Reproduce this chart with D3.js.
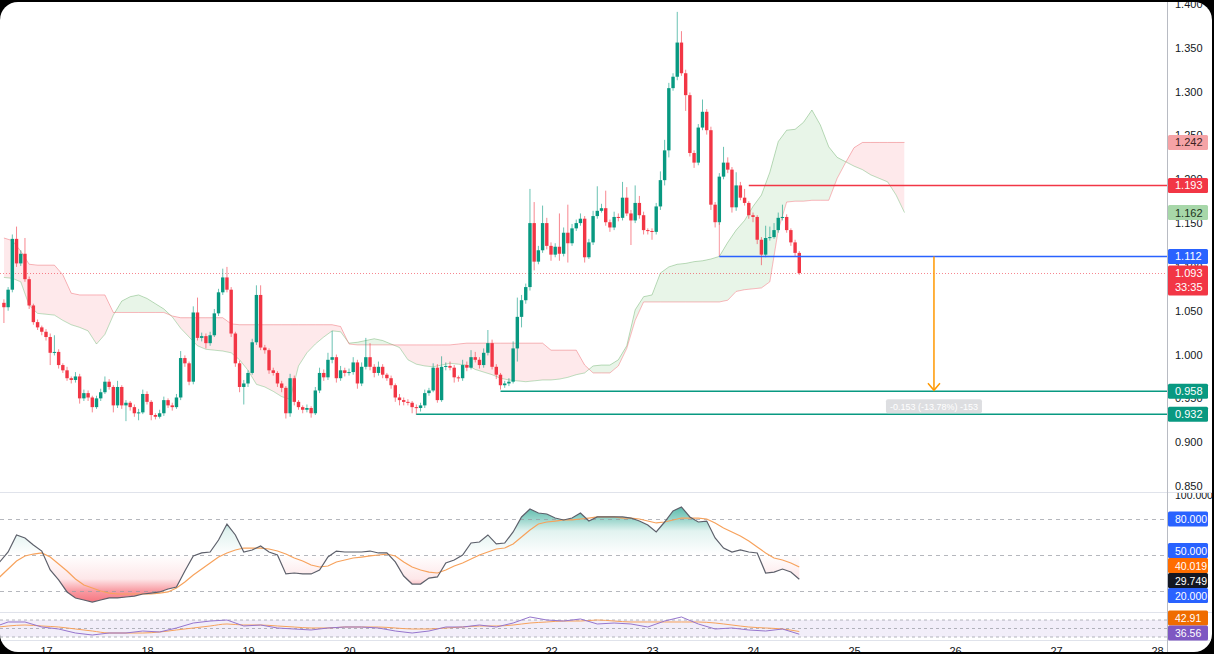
<!DOCTYPE html>
<html>
<head>
<meta charset="utf-8">
<script src="https://cdn.jsdelivr.net/npm/d3@7"></script>
<style>
  html, body { margin: 0; padding: 0; background: #000; }
  svg { display: block; }
</style>
</head>
<body>
<svg id="chart" width="1214" height="654"></svg>
<script>
// ---- data (hour 0 = day 17, 00:00) ----
const dayLabels = ["17", "18", "19", "20", "21", "22", "23", "24", "25", "26", "27", "28"];
const priceTicks = [1.4, 1.35, 1.3, 1.25, 1.2, 1.15, 1.1, 1.05, 1.0, 0.95, 0.9, 0.85];

const firstHour = -10;
const firstOpen = 1.059;
const closes = [
  1.054, 1.074, 1.132, 1.104, 1.115, 1.086, 1.056, 1.037, 1.031, 1.026,
  1.020, 1.002, 1.003, 0.988, 0.982, 0.973, 0.971, 0.975, 0.950, 0.956,
  0.951, 0.940, 0.950, 0.957, 0.969, 0.963, 0.942, 0.963, 0.942, 0.945,
  0.940, 0.933, 0.934, 0.955, 0.946, 0.931, 0.929, 0.933, 0.948, 0.942,
  0.940, 0.951, 0.996, 0.990, 0.969, 1.048, 1.019, 1.021, 1.013, 1.022,
  1.047, 1.071, 1.088, 1.074, 1.024, 0.990, 0.963, 0.967, 0.979, 1.014,
  1.068, 1.008, 1.005, 0.982, 0.979, 0.967, 0.962, 0.933, 0.973, 0.946,
  0.940, 0.937, 0.939, 0.933, 0.959, 0.979, 0.974, 0.994, 0.997, 0.973,
  0.982, 0.979, 0.980, 0.991, 0.967, 0.986, 0.997, 0.986, 0.979, 0.986,
  0.977, 0.973, 0.965, 0.951, 0.948, 0.946, 0.945, 0.940, 0.939, 0.942,
  0.956, 0.959, 0.985, 0.948, 0.986, 0.987, 0.985, 0.974, 0.973, 0.988,
  0.985, 0.997, 0.994, 0.988, 1.002, 1.013, 0.986, 0.977, 0.965, 0.967,
  0.969, 1.007, 1.043, 1.062, 1.077, 1.150, 1.106, 1.119, 1.150, 1.124,
  1.114, 1.123, 1.115, 1.139, 1.127, 1.144, 1.150, 1.155, 1.111, 1.128,
  1.158, 1.164, 1.167, 1.151, 1.145, 1.157, 1.156, 1.179, 1.161, 1.153,
  1.173, 1.159, 1.142, 1.141, 1.140, 1.169, 1.199, 1.233, 1.304, 1.317,
  1.356, 1.321, 1.296, 1.230, 1.219, 1.259, 1.277, 1.256, 1.171, 1.151,
  1.203, 1.219, 1.211, 1.168, 1.193, 1.179, 1.173, 1.159, 1.157, 1.131,
  1.114, 1.133, 1.134, 1.142, 1.156, 1.157, 1.142, 1.128, 1.116, 1.093
];
const upWick = [
  .004,.003,.005,.014,.004,.018,.003,.002,.003,.002,
  .003,.004,.019,.003,.002,.004,.002,.005,.003,.004,
  .003,.002,.003,.004,.006,.003,.002,.007,.002,.003,
  .002,.003,.004,.005,.003,.002,.002,.004,.004,.002,
  .003,.004,.008,.003,.002,.007,.017,.004,.003,.004,
  .005,.004,.010,.012,.003,.002,.003,.004,.003,.004,
  .011,.011,.003,.002,.003,.002,.003,.002,.005,.003,
  .002,.002,.004,.002,.004,.006,.004,.008,.030,.003,
  .005,.003,.004,.006,.003,.005,.022,.016,.003,.006,
  .003,.002,.003,.002,.004,.003,.003,.002,.003,.003,
  .004,.003,.005,.004,.012,.004,.005,.003,.002,.006,
  .004,.008,.006,.003,.005,.015,.004,.003,.002,.003,
  .004,.008,.022,.006,.004,.039,.024,.005,.020,.006,
  .004,.004,.038,.006,.032,.005,.004,.006,.003,.004,
  .006,.028,.005,.020,.003,.006,.004,.018,.012,.004,
  .020,.008,.004,.002,.003,.004,.010,.012,.006,.004,
  .035,.013,.004,.003,.003,.004,.014,.003,.004,.003,
  .004,.018,.006,.003,.015,.004,.010,.002,.003,.002,
  .003,.014,.012,.008,.006,.014,.003,.002,.003,.002
];
const downWick = [
  .018,.004,.003,.004,.003,.003,.004,.003,.003,.004,
  .004,.014,.003,.004,.003,.003,.004,.003,.006,.003,
  .004,.006,.002,.003,.002,.003,.008,.003,.004,.018,
  .004,.004,.008,.002,.003,.006,.003,.002,.003,.003,
  .004,.002,.003,.004,.004,.003,.003,.004,.006,.003,
  .002,.003,.003,.003,.004,.004,.006,.020,.004,.002,
  .003,.003,.004,.004,.003,.004,.005,.006,.004,.004,
  .003,.004,.003,.005,.002,.003,.004,.003,.004,.005,
  .003,.004,.003,.003,.006,.003,.003,.004,.005,.003,
  .004,.003,.004,.005,.006,.004,.003,.007,.008,.004,
  .003,.003,.002,.003,.002,.004,.003,.006,.004,.003,
  .004,.002,.003,.004,.003,.003,.003,.005,.005,.003,
  .003,.002,.015,.012,.004,.004,.010,.003,.003,.004,
  .007,.003,.008,.003,.022,.003,.003,.003,.006,.002,
  .003,.003,.002,.004,.005,.003,.004,.003,.003,.028,
  .003,.004,.005,.004,.009,.003,.004,.006,.008,.003,
  .004,.003,.018,.004,.006,.003,.003,.005,.006,.006,
  .003,.003,.004,.006,.004,.003,.003,.004,.006,.005,
  .012,.003,.003,.002,.003,.003,.003,.004,.004,.002
];

// ichimoku cloud, one value every 2 hours from hour -10
const cloudStart = -10;
const spanA = [
  1.088, 1.087, 1.083, 1.056, 1.047, 1.046, 1.045, 1.039, 1.034, 1.031,
  1.027, 1.012, 1.023, 1.045, 1.061, 1.066, 1.068, 1.064, 1.058, 1.052,
  1.043, 1.030, 1.020, 1.010, 1.006, 1.005, 1.004, 1.002, 0.994, 0.982,
  0.966, 0.963, 0.958, 0.952, 0.949, 0.987, 1.002, 1.012, 1.020, 1.027,
  1.026, 1.013, 1.014, 1.016, 1.018, 1.016, 1.012, 1.008, 0.994, 0.989,
  0.987, 0.986, 0.988, 0.990, 0.989, 0.988, 0.983, 0.980, 0.977, 0.973,
  0.971, 0.970, 0.969, 0.970, 0.971, 0.971, 0.972, 0.974, 0.977, 0.979,
  0.987, 0.988, 0.988, 0.994, 1.010, 1.051, 1.066, 1.068, 1.093, 1.100,
  1.103, 1.104, 1.106, 1.107, 1.109, 1.112, 1.128, 1.142, 1.153, 1.169,
  1.182, 1.208, 1.243, 1.256, 1.257, 1.265, 1.279, 1.262, 1.237, 1.225,
  1.220, 1.215, 1.211, 1.205, 1.201, 1.197, 1.182, 1.162
];
const spanB = [
  1.133, 1.130, 1.118, 1.103, 1.102, 1.102, 1.102, 1.091, 1.070, 1.068,
  1.068, 1.068, 1.068, 1.048, 1.048, 1.048, 1.048, 1.048, 1.048, 1.048,
  1.044, 1.042, 1.042, 1.042, 1.042, 1.042, 1.042, 1.035, 1.034, 1.034,
  1.034, 1.034, 1.034, 1.034, 1.034, 1.034, 1.034, 1.034, 1.034, 1.034,
  1.032, 1.012, 1.011, 1.011, 1.011, 1.011, 1.011, 1.011, 1.011, 1.011,
  1.011, 1.011, 1.011, 1.011, 1.012, 1.013, 1.013, 1.013, 1.013, 1.013,
  1.013, 1.013, 1.013, 1.013, 1.013, 1.005, 1.005, 1.005, 1.005, 0.988,
  0.979, 0.979, 0.979, 0.987, 1.007, 1.039, 1.060, 1.060, 1.060, 1.060,
  1.060, 1.060, 1.060, 1.060, 1.060, 1.060, 1.062, 1.072, 1.074, 1.075,
  1.076, 1.083, 1.142, 1.174, 1.175, 1.175, 1.176, 1.176, 1.176, 1.201,
  1.219, 1.236, 1.242, 1.242, 1.242, 1.242, 1.242, 1.242
];

// drawings on the price pane (levels + the hour they start at)
const resistance = 1.193, resistanceHour = 167;
const pivot = 1.112, pivotHour = 160, pivotAnchorTop = 1.151;
const supports = [0.958, 0.932];
const supportHours = [108, 88];
const measureHour = 211;
const measureText = "-0.153 (-13.78%) -153";
const countdown = "33:35";

// RSI, one value every 2 hours from hour -11
const rsiStart = -11;
const rsi = [
  44.2, 52.5, 66.7, 64.2, 58.3, 53.3, 37.5, 29.2, 19.2, 14.2,
  12.5, 10.8, 12.5, 14.2, 14.2, 15.0, 15.8, 17.5, 18.3, 19.2,
  21.7, 23.3, 36.7, 49.2, 51.7, 52.5, 62.5, 75.8, 66.7, 52.5,
  54.2, 57.5, 52.5, 50.0, 34.2, 35.0, 34.2, 34.2, 37.5, 48.3,
  53.3, 52.5, 52.5, 52.5, 53.3, 51.7, 51.7, 44.2, 32.5, 25.8,
  25.8, 30.8, 31.7, 43.3, 45.8, 50.0, 60.0, 60.8, 66.7, 59.2,
  60.0, 69.2, 81.7, 88.3, 85.0, 84.2, 80.8, 79.2, 80.8, 85.0,
  78.3, 81.7, 81.7, 81.7, 81.7, 80.8, 78.3, 75.0, 69.2, 77.5,
  86.7, 90.0, 81.7, 77.5, 78.3, 64.2, 55.8, 52.5, 54.2, 52.5,
  51.7, 35.0, 35.8, 38.3, 35.8, 29.749
];
const rsiMa = [
  31.7, 38.3, 45.0, 49.2, 50.8, 51.7, 48.3, 42.5, 36.7, 30.0,
  25.0, 22.5, 20.0, 18.3, 17.5, 17.5, 17.5, 17.5, 17.5, 18.3,
  19.2, 22.5, 27.5, 33.3, 38.3, 43.3, 48.3, 51.7, 54.2, 55.8,
  55.8, 55.8, 55.0, 53.3, 50.8, 47.5, 45.0, 41.7, 40.0, 40.8,
  44.2, 45.8, 47.5, 48.3, 49.2, 50.0, 50.8, 49.2, 44.2, 40.0,
  37.5, 35.8, 35.0, 37.5, 40.8, 43.3, 46.7, 50.0, 52.5, 55.0,
  55.8, 59.2, 65.0, 70.8, 75.8, 77.5, 78.3, 79.2, 79.2, 80.0,
  80.8, 81.7, 81.7, 81.7, 80.8, 80.8, 80.0, 78.3, 76.7, 77.5,
  79.2, 80.8, 80.8, 80.8, 80.0, 76.7, 72.5, 69.2, 65.8, 61.7,
  56.7, 51.7, 47.5, 45.8, 43.3, 40.019
];
const rsiLevels = [80, 50, 20];

// second oscillator, one value every 4 hours from hour -13
const slowStart = -13;
const slow = [
  51.2, 65.3, 65.3, 53.5, 48.8, 39.4, 34.7, 39.4, 39.4, 44.1,
  41.8, 51.2, 62.9, 67.6, 70.0, 55.9, 58.2, 51.2, 48.8, 46.5,
  51.2, 53.5, 53.5, 51.2, 44.1, 39.4, 44.1, 53.5, 53.5, 58.2,
  53.5, 62.9, 77.1, 70.0, 67.6, 72.4, 60.6, 62.9, 60.6, 53.5,
  67.6, 77.1, 60.6, 48.8, 51.2, 46.5, 44.1, 48.8, 36.56
];
const slowMa = [
  51.2, 55.9, 58.2, 55.9, 53.5, 48.8, 44.1, 39.4, 39.4, 39.4,
  41.8, 46.5, 51.2, 55.9, 60.6, 58.2, 58.2, 55.9, 53.5, 51.2,
  51.2, 53.5, 53.5, 53.5, 51.2, 48.8, 48.8, 51.2, 53.5, 55.9,
  55.9, 58.2, 62.9, 65.3, 67.6, 67.6, 70.0, 67.6, 65.3, 65.3,
  65.3, 65.3, 65.3, 62.9, 58.2, 53.5, 51.2, 48.8, 42.91
];
const slowBand = [70, 50, 30];

// ---- layout ----
const axisX = 1167;
const font = "'Liberation Sans', Arial, sans-serif";
const up = "#089981", down = "#f23645", blue = "#2962ff";

const x = d3.scaleLinear().domain([0, 264]).range([46, 1157]);
const y = d3.scaleLinear().domain([0.85, 1.4]).range([486, 4]);
const yRsi = d3.scaleLinear().domain([0, 100]).range([615, 495]);
const yLow = d3.scaleLinear().domain([30, 70]).range([637, 620]);

const svg = d3.select("#chart");
const defs = svg.append("defs");

function clipRect(id, x0, y0, w, h, r) {
  defs.append("clipPath").attr("id", id).append("rect")
    .attr("x", x0).attr("y", y0).attr("width", w).attr("height", h).attr("rx", r || 0);
}
clipRect("frame", 0, 2, 1212, 650, 18);
clipRect("clipMain", 0, 0, axisX, 492);
clipRect("clipRsi", 0, 493, axisX, 119);
clipRect("clipLow", 0, 613, axisX, 27);
clipRect("clipRsiAxis", axisX, 493, 50, 119);

const root = svg.append("g").attr("clip-path", "url(#frame)");
root.append("rect").attr("width", 1214).attr("height", 654).attr("fill", "#fff");

// ---- price pane ----
const main = root.append("g").attr("clip-path", "url(#clipMain)");

const cloud = spanA.map((a, i) => ({h: cloudStart + 2 * i, a: a, b: spanB[i]}));
defs.append("clipPath").attr("id", "aboveB").append("path")
  .attr("d", d3.area().x(d => x(d.h)).y0(0).y1(d => y(d.b))(cloud));
defs.append("clipPath").attr("id", "aboveA").append("path")
  .attr("d", d3.area().x(d => x(d.h)).y0(0).y1(d => y(d.a))(cloud));
const between = d3.area().x(d => x(d.h)).y0(d => y(d.a)).y1(d => y(d.b));

main.append("g").attr("clip-path", "url(#aboveB)")
  .append("path").attr("d", between(cloud)).attr("fill", "rgba(76,175,80,0.13)");
main.append("g").attr("clip-path", "url(#aboveA)")
  .append("path").attr("d", between(cloud)).attr("fill", "rgba(242,54,69,0.11)");
main.append("path").attr("d", d3.line().x(d => x(d.h)).y(d => y(d.a))(cloud))
  .attr("fill", "none").attr("stroke", "rgba(67,160,71,0.35)").attr("stroke-width", 1);
main.append("path").attr("d", d3.line().x(d => x(d.h)).y(d => y(d.b))(cloud))
  .attr("fill", "none").attr("stroke", "rgba(242,54,69,0.35)").attr("stroke-width", 1);

// current price dotted line
const lastClose = closes[closes.length - 1];
main.append("line").attr("x1", 0).attr("x2", axisX)
  .attr("y1", Math.round(y(lastClose)) + 0.5).attr("y2", Math.round(y(lastClose)) + 0.5)
  .attr("stroke", down).attr("stroke-opacity", 0.6).attr("stroke-dasharray", "1,2");

// candles
const candles = closes.map((c, i) => {
  const o = i === 0 ? firstOpen : closes[i - 1];
  return {h: firstHour + i, o: o, c: c,
          hi: Math.max(o, c) + upWick[i], lo: Math.min(o, c) - downWick[i]};
});
const cg = main.append("g");
cg.selectAll("line").data(candles).join("line")
  .attr("x1", d => x(d.h)).attr("x2", d => x(d.h))
  .attr("y1", d => y(d.hi)).attr("y2", d => y(d.lo))
  .attr("stroke", d => d.c >= d.o ? up : down).attr("stroke-opacity", 0.6).attr("stroke-width", 1);
cg.selectAll("rect").data(candles).join("rect")
  .attr("x", d => x(d.h) - 1.7).attr("width", 3.4)
  .attr("y", d => y(Math.max(d.o, d.c)))
  .attr("height", d => Math.max(1, Math.abs(y(d.o) - y(d.c))))
  .attr("fill", d => d.c >= d.o ? up : down);

// horizontal levels
function level(v, fromHour, color) {
  main.append("line").attr("x1", x(fromHour)).attr("x2", axisX)
    .attr("y1", y(v)).attr("y2", y(v)).attr("stroke", color).attr("stroke-width", 1.5);
}
main.append("line").attr("x1", x(pivotHour)).attr("x2", x(pivotHour))
  .attr("y1", y(pivotAnchorTop)).attr("y2", y(pivot))
  .attr("stroke", down).attr("stroke-opacity", 0.5).attr("stroke-width", 1);
level(resistance, resistanceHour, down);
level(pivot, pivotHour, blue);
supports.forEach((v, i) => level(v, supportHours[i], up));

// measure arrow + label
const mx = x(measureHour);
main.append("line").attr("x1", mx).attr("x2", mx)
  .attr("y1", y(pivot)).attr("y2", y(supports[0]) - 1)
  .attr("stroke", "#ff9800").attr("stroke-width", 1.5);
main.append("path")
  .attr("d", `M${mx - 6},${y(supports[0]) - 8}L${mx},${y(supports[0]) - 1}L${mx + 6},${y(supports[0]) - 8}`)
  .attr("fill", "none").attr("stroke", "#ff9800").attr("stroke-width", 1.5);
main.append("rect").attr("x", mx - 48).attr("y", y(supports[0]) + 8)
  .attr("width", 96).attr("height", 14).attr("rx", 2).attr("fill", "#d4d6da").attr("fill-opacity", 0.8);
main.append("text").attr("x", mx).attr("y", y(supports[0]) + 18.5)
  .attr("text-anchor", "middle").attr("font-family", font).attr("font-size", 9)
  .attr("fill", "#fff").text(measureText);

// ---- RSI pane ----
const rsiPane = root.append("g").attr("clip-path", "url(#clipRsi)");
const rsiPts = rsi.map((v, i) => ({h: rsiStart + 2 * i, v: v, m: rsiMa[i]}));

const grad = defs.append("linearGradient").attr("id", "rsiGrad")
  .attr("gradientUnits", "userSpaceOnUse")
  .attr("x1", 0).attr("x2", 0).attr("y1", yRsi(100)).attr("y2", yRsi(0));
[[0, up, 0.9], [0.2, up, 0.42], [0.3, up, 0.12], [0.5, up, 0],
 [0.5, down, 0], [0.7, down, 0.12], [0.8, down, 0.5], [1, down, 0.9]]
  .forEach(s => grad.append("stop").attr("offset", s[0]).attr("stop-color", s[1]).attr("stop-opacity", s[2]));

rsiPane.append("path")
  .attr("d", d3.area().x(d => x(d.h)).y0(yRsi(50)).y1(d => yRsi(d.v))(rsiPts))
  .attr("fill", "url(#rsiGrad)");
rsiPane.selectAll("line.grid").data(rsiLevels).join("line").attr("class", "grid")
  .attr("x1", 0).attr("x2", axisX).attr("y1", d => yRsi(d) + 0.5).attr("y2", d => yRsi(d) + 0.5)
  .attr("stroke", "#9598a1").attr("stroke-opacity", 0.7).attr("stroke-dasharray", "4,4");
rsiPane.append("path").attr("d", d3.line().x(d => x(d.h)).y(d => yRsi(d.m))(rsiPts))
  .attr("fill", "none").attr("stroke", "#f7a25c").attr("stroke-width", 1.2);
rsiPane.append("path").attr("d", d3.line().x(d => x(d.h)).y(d => yRsi(d.v))(rsiPts))
  .attr("fill", "none").attr("stroke", "#5d606b").attr("stroke-width", 1.2);

// ---- lower oscillator pane ----
const low = root.append("g").attr("clip-path", "url(#clipLow)");
const slowPts = slow.map((v, i) => ({h: slowStart + 4 * i, v: v, m: slowMa[i]}));
low.append("rect").attr("x", 0).attr("width", axisX)
  .attr("y", yLow(slowBand[0])).attr("height", yLow(slowBand[2]) - yLow(slowBand[0]))
  .attr("fill", "rgba(126,87,194,0.1)");
low.selectAll("line.grid").data(slowBand).join("line").attr("class", "grid")
  .attr("x1", 0).attr("x2", axisX).attr("y1", d => yLow(d)).attr("y2", d => yLow(d))
  .attr("stroke", "#9598a1").attr("stroke-opacity", 0.7).attr("stroke-dasharray", "3,3");
low.append("path").attr("d", d3.line().curve(d3.curveMonotoneX).x(d => x(d.h)).y(d => yLow(d.m))(slowPts))
  .attr("fill", "none").attr("stroke", "#f7a25c").attr("stroke-width", 1);
low.append("path").attr("d", d3.line().x(d => x(d.h)).y(d => yLow(d.v))(slowPts))
  .attr("fill", "none").attr("stroke", "#9575cd").attr("stroke-width", 1);

// ---- separators and axes ----
[492.5, 612.5, 640.5].forEach(yy => root.append("line")
  .attr("x1", 0).attr("x2", 1214).attr("y1", yy).attr("y2", yy).attr("stroke", "#e0e3eb"));
root.append("line").attr("x1", axisX + 0.5).attr("x2", axisX + 0.5).attr("y1", 0).attr("y2", 654)
  .attr("stroke", "#b8bbc3");

const priceAxis = root.append("g").attr("transform", `translate(${axisX},0)`)
  .call(d3.axisRight(y).tickValues(priceTicks).tickFormat(d3.format(".3f")).tickSize(0).tickPadding(8));
const timeAxis = root.append("g").attr("transform", "translate(0,640)")
  .call(d3.axisBottom(x).tickValues(dayLabels.map((d, i) => i * 24))
    .tickFormat((d, i) => dayLabels[i]).tickSize(0).tickPadding(7));
root.append("g").attr("clip-path", "url(#clipRsiAxis)")
  .append("g").attr("transform", `translate(${axisX},0)`)
  .call(d3.axisRight(yRsi).tickValues([100]).tickFormat(d3.format(".3f")).tickSize(0).tickPadding(8))
  .call(g => g.select(".domain").remove())
  .attr("font-family", font).attr("font-size", 10.5).selectAll("text").attr("fill", "#131722");
[priceAxis, timeAxis].forEach(g => {
  g.select(".domain").remove();
  g.attr("font-family", font).attr("font-size", 11).selectAll("text").attr("fill", "#131722");
});

// ---- right-side value labels ----
function spread(items, gap, maxY) {
  items.sort((a, b) => a.y - b.y);
  for (let k = 0; k < 60; k++) {
    for (let i = 1; i < items.length; i++) {
      const d = items[i].y - items[i - 1].y;
      if (d < gap) { items[i].y += (gap - d) / 2; items[i - 1].y -= (gap - d) / 2; }
    }
    if (maxY != null && items[items.length - 1].y > maxY) {
      items[items.length - 1].y = maxY;
      for (let i = items.length - 2; i >= 0; i--)
        if (items[i + 1].y - items[i].y < gap) items[i].y = items[i + 1].y - gap;
    }
  }
  return items;
}

function tag(yy, lines, bg, fg, size) {
  const h = 15 * lines.length;
  const g = root.append("g");
  g.append("rect").attr("x", axisX + 1).attr("y", yy - 7.5).attr("width", 40).attr("height", h)
    .attr("rx", 1.5).attr("fill", bg);
  lines.forEach((t, i) => g.append("text").attr("x", axisX + 8).attr("y", yy + 4 + i * 14)
    .attr("font-family", font).attr("font-size", size || 11).attr("fill", fg).text(t));
}
const f3 = d3.format(".3f");
const leadB = spanB[spanB.length - 1], leadA = spanA[spanA.length - 1];
tag(y(leadB), [f3(leadB)], "#f5a3a6", "#3b1f22");
tag(y(resistance), [f3(resistance)], down, "#fff");
tag(y(leadA), [f3(leadA)], "#a7d7a9", "#1d3320");
tag(y(pivot), [f3(pivot)], blue, "#fff");
tag(y(lastClose), [f3(lastClose), countdown], down, "#fff");
supports.forEach(v => tag(y(v), [f3(v)], up, "#fff"));

const rsiTags = spread([
  {y: yRsi(rsiLevels[0]), t: f3(rsiLevels[0]), bg: blue, fg: "#fff"},
  {y: yRsi(rsiLevels[1]), t: f3(rsiLevels[1]), bg: blue, fg: "#fff"},
  {y: yRsi(rsiMa[rsiMa.length - 1]), t: f3(rsiMa[rsiMa.length - 1]), bg: "#ff6d00", fg: "#fff"},
  {y: yRsi(rsi[rsi.length - 1]), t: f3(rsi[rsi.length - 1]), bg: "#131722", fg: "#fff"},
  {y: yRsi(rsiLevels[2]), t: f3(rsiLevels[2]), bg: blue, fg: "#fff"}
], 15);
rsiTags.forEach(d => tag(d.y, [d.t], d.bg, d.fg, 10.5));

const f2 = d3.format(".2f");
const lowTags = spread([
  {y: yLow(slowMa[slowMa.length - 1]), t: f2(slowMa[slowMa.length - 1]), bg: "#ef6c00"},
  {y: yLow(slow[slow.length - 1]), t: f2(slow[slow.length - 1]), bg: "#7e57c2"}
], 15, 633);
lowTags.forEach(d => tag(d.y, [d.t], d.bg, "#fff", 10.5));
</script>
</body>
</html>
